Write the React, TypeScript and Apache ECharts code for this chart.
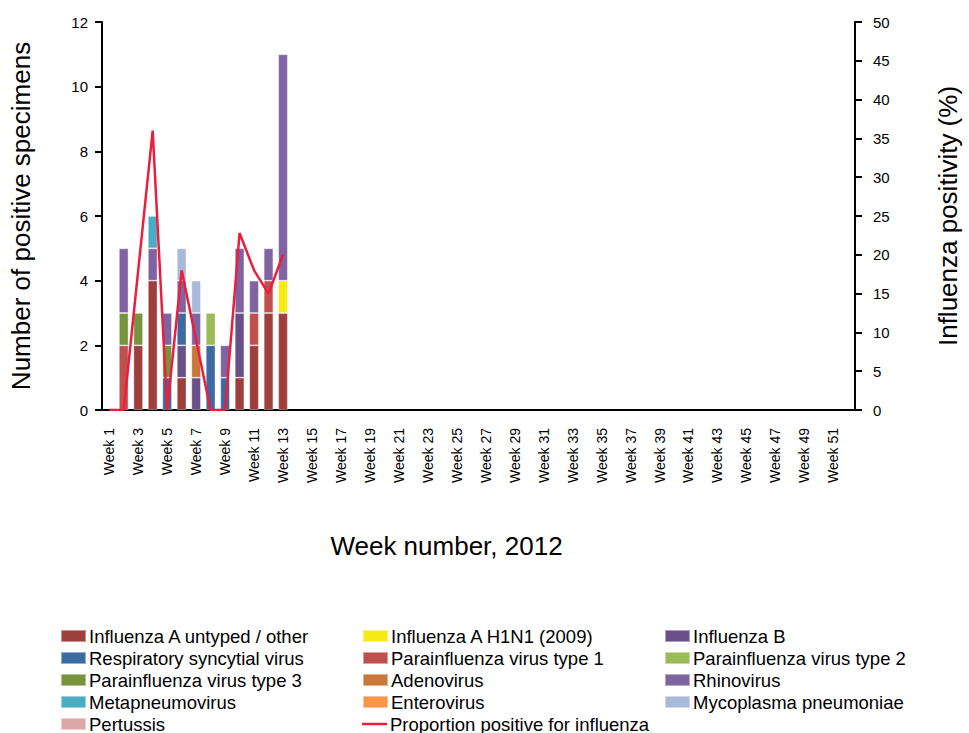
import React, { useEffect, useRef } from "react";
import * as echarts from "echarts";

const weeks: string[] = Array.from({ length: 52 }, (_, i) => `Week ${i + 1}`);

const seriesNames: string[] = [
  "Influenza A untyped / other",
  "Influenza A H1N1 (2009)",
  "Influenza B",
  "Respiratory syncytial virus",
  "Parainfluenza virus type 1",
  "Parainfluenza virus type 2",
  "Parainfluenza virus type 3",
  "Adenovirus",
  "Rhinovirus",
  "Metapneumovirus",
  "Enterovirus",
  "Mycoplasma pneumoniae",
  "Pertussis",
];

const colors: string[] = [
  "#9e3f3e",
  "#f5ea14",
  "#6a5089",
  "#3d6aa0",
  "#c0504d",
  "#9bbb59",
  "#77933c",
  "#c8783a",
  "#8064a2",
  "#4bacc6",
  "#f79646",
  "#a9b9d9",
  "#dca9a9",
];

// values for weeks 1..13
const fluAUntyped = [0, 0, 2, 4, 0, 1, 0, 0, 0, 1, 2, 3, 3];
const fluAH1N1 = [0, 0, 0, 0, 0, 0, 0, 0, 0, 0, 0, 0, 1];
const fluB = [0, 0, 0, 0, 0, 1, 1, 0, 0, 2, 0, 0, 0];
const rsv = [0, 0, 0, 0, 1, 1, 0, 2, 1, 0, 0, 0, 0];
const piv1 = [0, 2, 0, 0, 0, 0, 0, 0, 0, 0, 1, 1, 0];
const piv2 = [0, 0, 0, 0, 0, 0, 0, 1, 0, 0, 0, 0, 0];
const piv3 = [0, 1, 1, 0, 1, 0, 0, 0, 0, 0, 0, 0, 0];
const adeno = [0, 0, 0, 0, 0, 0, 1, 0, 0, 0, 0, 0, 0];
const rhino = [0, 2, 0, 1, 1, 1, 1, 0, 1, 2, 1, 1, 7];
const metapneumo = [0, 0, 0, 1, 0, 0, 0, 0, 0, 0, 0, 0, 0];
const entero = [0, 0, 0, 0, 0, 0, 0, 0, 0, 0, 0, 0, 0];
const mycoplasma = [0, 0, 0, 0, 0, 1, 1, 0, 0, 0, 0, 0, 0];
const pertussis = [0, 0, 0, 0, 0, 0, 0, 0, 0, 0, 0, 0, 0];

const fluPositivity = [0, 0, 18, 36, 0, 18, 9, 0, 0, 22.8, 18, 15, 20];

const lineName = "Proportion positive for influenza";
const lineColor = "#ec1e3e";

const leftTicks = { min: 0, max: 12, interval: 2 };
const rightTicks = { min: 0, max: 50, interval: 5 };

// legend order (row-major, 3 columns)
const legendOrder: string[] = [...seriesNames, lineName];

export default function App() {
  const ref = useRef<HTMLDivElement>(null);
  useEffect(() => {
    if (!ref.current) return;
    const chart = echarts.init(ref.current, null, { renderer: "svg" });
    const barData = [
      fluAUntyped, fluAH1N1, fluB, rsv, piv1, piv2, piv3, adeno, rhino, metapneumo, entero, mycoplasma, pertussis,
    ];
    const font = "Liberation Sans, Arial, sans-serif";
    const barSeries = seriesNames.map((name, i) => ({
      name,
      type: "bar",
      stack: "total",
      barWidth: "66%",
      data: weeks.map((_, w) => {
        const v = w < barData[i].length ? barData[i][w] : 0;
        return v === 0 ? null : v;
      }),
      itemStyle: { color: colors[i], borderColor: "rgba(255,255,255,0.45)", borderWidth: 0.8 },
    }));
    const lineSeries = {
      name: lineName,
      type: "line",
      yAxisIndex: 1,
      symbol: "none",
      data: fluPositivity,
      lineStyle: { color: lineColor, width: 2.5 },
      itemStyle: { color: lineColor },
      z: 5,
    };
    const colX = [60, 362, 664];
    const rowY = [636, 658, 680, 702, 724];
    const legends = legendOrder.map((name, idx) => {
      const col = idx % 3;
      const row = Math.floor(idx / 3);
      const isLine = name === lineName;
      return {
        left: colX[col],
        top: rowY[row] - 10,
        padding: 0,
        itemWidth: 25,
        itemHeight: isLine ? 2.5 : 12,
        selectedMode: false,
        textStyle: { fontFamily: font, fontSize: 18.5, color: "#000", lineHeight: 20, padding: [0, 0, 0, -2] },
        data: [
          isLine
            ? { name, icon: "rect", itemStyle: { color: lineColor, borderWidth: 0 } }
            : { name, icon: "rect" },
        ],
      };
    });
    chart.setOption({
      animation: false,
      textStyle: { fontFamily: font },
      grid: { left: 102, right: 105, top: 22, bottom: 323 },
      legend: legends,
      xAxis: {
        type: "category",
        data: weeks,
        name: "Week number, 2012",
        nameLocation: "middle",
        nameGap: 123,
        nameTextStyle: { fontFamily: font, fontSize: 26, color: "#000", padding: [0, 64, 0, 0] },
        axisLine: { lineStyle: { color: "#000", width: 2 } },
        axisTick: { alignWithLabel: false, interval: 0, length: 6, lineStyle: { color: "#000", width: 2 } },
        axisLabel: { interval: 1, rotate: 90, fontFamily: font, fontSize: 14, color: "#000", margin: 18 },
      },
      yAxis: [
        {
          type: "value",
          ...leftTicks,
          name: "Number of positive specimens",
          nameLocation: "middle",
          nameGap: 68,
          nameTextStyle: { fontFamily: font, fontSize: 26, color: "#000" },
          axisLine: { show: true, lineStyle: { color: "#000", width: 2 } },
          axisTick: { show: true, length: 7, lineStyle: { color: "#000", width: 2 } },
          axisLabel: { fontFamily: font, fontSize: 15, color: "#000", margin: 14, padding: [0, 0, 4, 0] },
          splitLine: { show: false },
        },
        {
          type: "value",
          ...rightTicks,
          position: "right",
          name: "Influenza positivity (%)",
          nameLocation: "middle",
          nameGap: 80,
          nameTextStyle: { fontFamily: font, fontSize: 26, color: "#000" },
          axisLine: { show: true, lineStyle: { color: "#000", width: 2 } },
          axisTick: { show: true, length: 7, lineStyle: { color: "#000", width: 2 } },
          axisLabel: { fontFamily: font, fontSize: 15, color: "#000", margin: 18, padding: [0, 0, 4, 0] },
          splitLine: { show: false },
        },
      ],
      series: [...barSeries, lineSeries],
    });
    return () => chart.dispose();
  }, []);
  return <div ref={ref} style={{ width: 969, height: 733, position: "absolute", left: 0, top: 0 }} />;
}
